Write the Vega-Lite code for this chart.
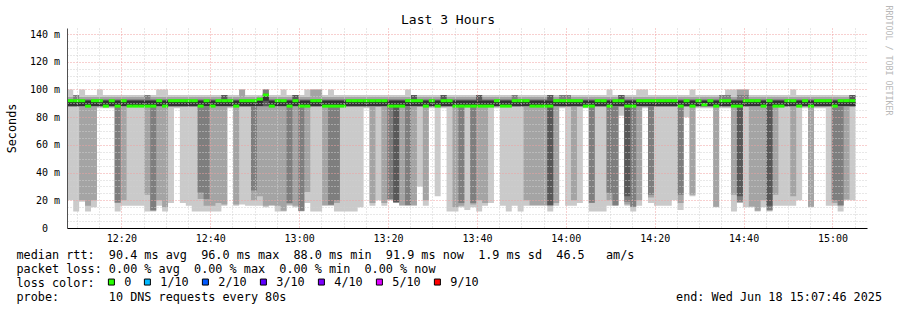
{
"$schema": "https://vega.github.io/schema/vega-lite/v6.json",
"width": 800,
"height": 200,
"autosize": {"type": "none"},
"padding": {"left": 67, "top": 28, "right": 30, "bottom": 82},
"background": "#ffffff",
"title": {"text": "Last 3 Hours", "fontSize": 13, "fontWeight": "normal", "color": "#000000", "anchor": "middle", "baseline": "alphabetic", "offset": 4, "dx": -19, "dy": 36},
"data": {"values": [
{"t":"2025-06-18T12:07:50","p1":20,"p2":87.3,"p3":87.8,"p4":88,"p5":88,"p6":91.9,"p7":92.3,"p8":93,"p9":94.5,"p10":100,"m":91.9,"loss":"0"},
{"t":"2025-06-18T12:09:10","p1":12,"p2":87.3,"p3":87.8,"p4":88,"p5":88,"p6":91.9,"p7":92.3,"p8":96,"p9":96,"p10":96,"m":91.9,"loss":"0"},
{"t":"2025-06-18T12:10:30","p1":19,"p2":20,"p3":87.8,"p4":88,"p5":88,"p6":91.9,"p7":92.3,"p8":93,"p9":94.5,"p10":100,"m":91.9,"loss":"0"},
{"t":"2025-06-18T12:11:50","p1":12,"p2":16,"p3":87.8,"p4":88,"p5":88,"p6":91.9,"p7":92.3,"p8":93,"p9":94.5,"p10":96,"m":88,"loss":"0"},
{"t":"2025-06-18T12:13:10","p1":15,"p2":20,"p3":87.8,"p4":88,"p5":88,"p6":91.9,"p7":92.3,"p8":93,"p9":94.5,"p10":96,"m":91.9,"loss":"0"},
{"t":"2025-06-18T12:14:30","p1":86.5,"p2":87.3,"p3":87.8,"p4":88,"p5":88,"p6":91.9,"p7":92.3,"p8":93,"p9":94.5,"p10":100,"m":91.9,"loss":"0"},
{"t":"2025-06-18T12:15:50","p1":86.5,"p2":87.3,"p3":87.8,"p4":88,"p5":88,"p6":91.9,"p7":92.3,"p8":93,"p9":94.5,"p10":96,"m":88,"loss":"0"},
{"t":"2025-06-18T12:17:10","p1":86.5,"p2":87.3,"p3":87.8,"p4":88,"p5":88,"p6":91.9,"p7":92.3,"p8":93,"p9":94.5,"p10":96,"m":91.9,"loss":"0"},
{"t":"2025-06-18T12:18:30","p1":12,"p2":18,"p3":18.5,"p4":88,"p5":88,"p6":91.9,"p7":92.3,"p8":93,"p9":94.5,"p10":96,"m":88,"loss":"0"},
{"t":"2025-06-18T12:19:50","p1":16,"p2":20,"p3":87.8,"p4":88,"p5":88,"p6":91.9,"p7":92.3,"p8":93,"p9":94.5,"p10":96,"m":91.9,"loss":"0"},
{"t":"2025-06-18T12:21:10","p1":16,"p2":87.3,"p3":87.8,"p4":88,"p5":88,"p6":91.9,"p7":92.3,"p8":93,"p9":94.5,"p10":96,"m":88,"loss":"0"},
{"t":"2025-06-18T12:22:30","p1":16,"p2":87.3,"p3":87.8,"p4":88,"p5":88,"p6":91.9,"p7":92.3,"p8":93,"p9":94.5,"p10":96,"m":88,"loss":"0"},
{"t":"2025-06-18T12:23:50","p1":16,"p2":87.3,"p3":87.8,"p4":88,"p5":88,"p6":91.9,"p7":92.3,"p8":93,"p9":94.5,"p10":96,"m":88,"loss":"0"},
{"t":"2025-06-18T12:25:10","p1":12,"p2":24,"p3":87.8,"p4":88,"p5":88,"p6":91.9,"p7":92.3,"p8":96,"p9":96,"p10":96,"m":88,"loss":"0"},
{"t":"2025-06-18T12:26:30","p1":12,"p2":12.5,"p3":12.8,"p4":88,"p5":88,"p6":91.9,"p7":92.3,"p8":93,"p9":94.5,"p10":96,"m":88,"loss":"0"},
{"t":"2025-06-18T12:27:50","p1":16,"p2":20,"p3":87.8,"p4":88,"p5":88,"p6":91.9,"p7":92.3,"p8":93,"p9":94.5,"p10":100,"m":91.9,"loss":"0"},
{"t":"2025-06-18T12:29:10","p1":12,"p2":15,"p3":87.8,"p4":88,"p5":88,"p6":91.9,"p7":92.3,"p8":93,"p9":94.5,"p10":100,"m":88,"loss":"0"},
{"t":"2025-06-18T12:30:30","p1":18,"p2":87.3,"p3":87.8,"p4":88,"p5":88,"p6":91.9,"p7":92.3,"p8":93,"p9":94.5,"p10":96,"m":91.9,"loss":"0"},
{"t":"2025-06-18T12:31:50","p1":86.5,"p2":87.3,"p3":87.8,"p4":88,"p5":88,"p6":91.9,"p7":92.3,"p8":93,"p9":94.5,"p10":96,"m":91.9,"loss":"0"},
{"t":"2025-06-18T12:33:10","p1":18,"p2":87.3,"p3":87.8,"p4":88,"p5":88,"p6":91.9,"p7":92.3,"p8":93,"p9":94.5,"p10":96,"m":91.9,"loss":"0"},
{"t":"2025-06-18T12:34:30","p1":16,"p2":87.3,"p3":87.8,"p4":88,"p5":88,"p6":91.9,"p7":92.3,"p8":93,"p9":94.5,"p10":96,"m":91.9,"loss":"0"},
{"t":"2025-06-18T12:35:50","p1":12,"p2":87.3,"p3":87.8,"p4":88,"p5":88,"p6":91.9,"p7":92.3,"p8":93,"p9":94.5,"p10":96,"m":91.9,"loss":"0"},
{"t":"2025-06-18T12:37:10","p1":12,"p2":21,"p3":25.7,"p4":88,"p5":88,"p6":91.9,"p7":92.3,"p8":93,"p9":94.5,"p10":96,"m":88,"loss":"0"},
{"t":"2025-06-18T12:38:30","p1":12,"p2":16,"p3":21,"p4":88,"p5":88,"p6":91.9,"p7":92.3,"p8":93,"p9":94.5,"p10":96,"m":91.9,"loss":"0"},
{"t":"2025-06-18T12:39:50","p1":12,"p2":16,"p3":87.8,"p4":88,"p5":88,"p6":91.9,"p7":92.3,"p8":93,"p9":94.5,"p10":96,"m":88,"loss":"0"},
{"t":"2025-06-18T12:41:10","p1":12,"p2":18,"p3":87.8,"p4":88,"p5":88,"p6":91.9,"p7":92.3,"p8":93,"p9":94.5,"p10":96,"m":91.9,"loss":"0"},
{"t":"2025-06-18T12:42:30","p1":16,"p2":17,"p3":87.8,"p4":88,"p5":88,"p6":91.9,"p7":96,"p8":96,"p9":96,"p10":96,"m":91.9,"loss":"0"},
{"t":"2025-06-18T12:43:50","p1":86.5,"p2":87.3,"p3":87.8,"p4":88,"p5":88,"p6":91.9,"p7":92.3,"p8":93,"p9":94.5,"p10":96,"m":91.9,"loss":"0"},
{"t":"2025-06-18T12:45:10","p1":16,"p2":17,"p3":87.8,"p4":88,"p5":88,"p6":91.9,"p7":92.3,"p8":93,"p9":94.5,"p10":96,"m":88,"loss":"0"},
{"t":"2025-06-18T12:46:30","p1":17,"p2":87.3,"p3":87.8,"p4":88,"p5":88,"p6":91.9,"p7":92.3,"p8":93,"p9":100,"p10":100,"m":91.9,"loss":"0"},
{"t":"2025-06-18T12:47:50","p1":16,"p2":87.3,"p3":87.8,"p4":88,"p5":88,"p6":91.9,"p7":92.3,"p8":93,"p9":94.5,"p10":96,"m":91.9,"loss":"0"},
{"t":"2025-06-18T12:49:10","p1":16,"p2":20,"p3":27,"p4":88,"p5":88,"p6":91.9,"p7":92.3,"p8":93,"p9":94.5,"p10":96,"m":91.9,"loss":"0"},
{"t":"2025-06-18T12:50:30","p1":16,"p2":23,"p3":87.8,"p4":88,"p5":88,"p6":93,"p7":93.5,"p8":94,"p9":95,"p10":96,"m":93,"loss":"0"},
{"t":"2025-06-18T12:51:50","p1":15,"p2":16,"p3":87.8,"p4":88,"p5":91.9,"p6":96,"p7":97,"p8":100,"p9":100,"p10":100,"m":96,"loss":"0"},
{"t":"2025-06-18T12:53:10","p1":16,"p2":16.5,"p3":87.8,"p4":88,"p5":88,"p6":91.9,"p7":92.3,"p8":93,"p9":94.5,"p10":96,"m":88,"loss":"0"},
{"t":"2025-06-18T12:54:30","p1":12,"p2":16,"p3":87.8,"p4":88,"p5":88,"p6":91.9,"p7":92.3,"p8":93,"p9":94.5,"p10":96,"m":91.9,"loss":"0"},
{"t":"2025-06-18T12:55:50","p1":12,"p2":12.5,"p3":87.8,"p4":88,"p5":88,"p6":91.9,"p7":92.3,"p8":93,"p9":94.5,"p10":100,"m":91.9,"loss":"0"},
{"t":"2025-06-18T12:57:10","p1":16,"p2":17,"p3":18,"p4":88,"p5":88,"p6":91.9,"p7":92.3,"p8":93,"p9":94.5,"p10":96,"m":88,"loss":"0"},
{"t":"2025-06-18T12:58:30","p1":15,"p2":16,"p3":87.8,"p4":88,"p5":88,"p6":91.9,"p7":96,"p8":96,"p9":96,"p10":96,"m":91.9,"loss":"0"},
{"t":"2025-06-18T12:59:50","p1":12,"p2":12.3,"p3":12.5,"p4":88,"p5":88,"p6":91.9,"p7":92.3,"p8":93,"p9":94.5,"p10":96,"m":88,"loss":"0"},
{"t":"2025-06-18T13:01:10","p1":18,"p2":26,"p3":87.8,"p4":88,"p5":88,"p6":91.9,"p7":92.3,"p8":93,"p9":94.5,"p10":100,"m":88,"loss":"0"},
{"t":"2025-06-18T13:02:30","p1":12,"p2":87.3,"p3":87.8,"p4":88,"p5":88,"p6":91.9,"p7":92.3,"p8":93,"p9":100,"p10":100,"m":91.9,"loss":"0"},
{"t":"2025-06-18T13:03:50","p1":12,"p2":87.3,"p3":87.8,"p4":88,"p5":88,"p6":91.9,"p7":92.3,"p8":93,"p9":100,"p10":100,"m":91.9,"loss":"0"},
{"t":"2025-06-18T13:05:10","p1":16,"p2":16.5,"p3":87.8,"p4":88,"p5":88,"p6":91.9,"p7":92.3,"p8":93,"p9":94.5,"p10":96,"m":88,"loss":"0"},
{"t":"2025-06-18T13:06:30","p1":16,"p2":16.5,"p3":16.8,"p4":88,"p5":88,"p6":91.9,"p7":92.3,"p8":93,"p9":94.5,"p10":100,"m":88,"loss":"0"},
{"t":"2025-06-18T13:07:50","p1":12,"p2":18,"p3":20,"p4":88,"p5":88,"p6":91.9,"p7":92.3,"p8":93,"p9":94.5,"p10":96,"m":88,"loss":"0"},
{"t":"2025-06-18T13:09:10","p1":12,"p2":87.3,"p3":87.8,"p4":88,"p5":88,"p6":91.9,"p7":92.3,"p8":93,"p9":94.5,"p10":96,"m":88,"loss":"0"},
{"t":"2025-06-18T13:10:30","p1":12,"p2":87.3,"p3":87.8,"p4":88,"p5":88,"p6":91.9,"p7":92.3,"p8":93,"p9":94.5,"p10":96,"m":91.9,"loss":"0"},
{"t":"2025-06-18T13:11:50","p1":12,"p2":87.3,"p3":87.8,"p4":88,"p5":88,"p6":91.9,"p7":92.3,"p8":93,"p9":94.5,"p10":96,"m":91.9,"loss":"0"},
{"t":"2025-06-18T13:13:10","p1":15,"p2":87.3,"p3":87.8,"p4":88,"p5":88,"p6":91.9,"p7":92.3,"p8":93,"p9":94.5,"p10":96,"m":91.9,"loss":"0"},
{"t":"2025-06-18T13:14:30","p1":86.5,"p2":87.3,"p3":87.8,"p4":88,"p5":88,"p6":91.9,"p7":92.3,"p8":93,"p9":94.5,"p10":96,"m":91.9,"loss":"0"},
{"t":"2025-06-18T13:15:50","p1":16,"p2":18,"p3":87.8,"p4":88,"p5":88,"p6":91.9,"p7":92.3,"p8":93,"p9":94.5,"p10":96,"m":91.9,"loss":"0"},
{"t":"2025-06-18T13:17:10","p1":20,"p2":87.3,"p3":87.8,"p4":88,"p5":88,"p6":91.9,"p7":92.3,"p8":93,"p9":94.5,"p10":96,"m":91.9,"loss":"0"},
{"t":"2025-06-18T13:18:30","p1":16,"p2":18,"p3":87.8,"p4":88,"p5":88,"p6":91.9,"p7":92.3,"p8":93,"p9":94.5,"p10":96,"m":91.9,"loss":"0"},
{"t":"2025-06-18T13:19:50","p1":20,"p2":20.5,"p3":20.8,"p4":88,"p5":88,"p6":91.9,"p7":92.3,"p8":93,"p9":94.5,"p10":96,"m":88,"loss":"0"},
{"t":"2025-06-18T13:21:10","p1":18,"p2":18.3,"p3":18.5,"p4":18.7,"p5":88,"p6":91.9,"p7":92.3,"p8":93,"p9":94.5,"p10":96,"m":88,"loss":"0"},
{"t":"2025-06-18T13:22:30","p1":16,"p2":16.5,"p3":87.8,"p4":88,"p5":88,"p6":91.9,"p7":92.3,"p8":93,"p9":94.5,"p10":96,"m":88,"loss":"0"},
{"t":"2025-06-18T13:23:50","p1":16,"p2":16.3,"p3":16.6,"p4":88,"p5":88,"p6":91.9,"p7":92.3,"p8":93,"p9":94.5,"p10":100,"m":91.9,"loss":"0"},
{"t":"2025-06-18T13:25:10","p1":16,"p2":16.5,"p3":87.8,"p4":88,"p5":88,"p6":91.9,"p7":96,"p8":96,"p9":96,"p10":96,"m":91.9,"loss":"0"},
{"t":"2025-06-18T13:26:30","p1":30,"p2":87.3,"p3":87.8,"p4":88,"p5":88,"p6":91.9,"p7":92.3,"p8":93,"p9":94.5,"p10":96,"m":91.9,"loss":"0"},
{"t":"2025-06-18T13:27:50","p1":16,"p2":20,"p3":87.8,"p4":88,"p5":88,"p6":91.9,"p7":92.3,"p8":93,"p9":94.5,"p10":96,"m":88,"loss":"0"},
{"t":"2025-06-18T13:29:10","p1":86.5,"p2":87.3,"p3":87.8,"p4":88,"p5":88,"p6":91.9,"p7":92.3,"p8":93,"p9":94.5,"p10":96,"m":91.9,"loss":"0"},
{"t":"2025-06-18T13:30:30","p1":23,"p2":87.3,"p3":87.8,"p4":88,"p5":88,"p6":91.9,"p7":92.3,"p8":93,"p9":94.5,"p10":96,"m":88,"loss":"0"},
{"t":"2025-06-18T13:31:50","p1":86.5,"p2":87.3,"p3":87.8,"p4":88,"p5":88,"p6":91.9,"p7":96,"p8":96,"p9":96,"p10":96,"m":91.9,"loss":"0"},
{"t":"2025-06-18T13:33:10","p1":12,"p2":87.3,"p3":87.8,"p4":88,"p5":88,"p6":91.9,"p7":92.3,"p8":93,"p9":94.5,"p10":96,"m":91.9,"loss":"0"},
{"t":"2025-06-18T13:34:30","p1":12,"p2":15,"p3":87.8,"p4":88,"p5":88,"p6":91.9,"p7":92.3,"p8":93,"p9":94.5,"p10":96,"m":88,"loss":"0"},
{"t":"2025-06-18T13:35:50","p1":15,"p2":16,"p3":18,"p4":88,"p5":88,"p6":91.9,"p7":92.3,"p8":93,"p9":94.5,"p10":96,"m":88,"loss":"0"},
{"t":"2025-06-18T13:37:10","p1":13,"p2":87.3,"p3":87.8,"p4":88,"p5":88,"p6":91.9,"p7":92.3,"p8":93,"p9":94.5,"p10":96,"m":88,"loss":"0"},
{"t":"2025-06-18T13:38:30","p1":15,"p2":17,"p3":18,"p4":88,"p5":88,"p6":91.9,"p7":92.3,"p8":93,"p9":94.5,"p10":96,"m":88,"loss":"0"},
{"t":"2025-06-18T13:39:50","p1":12,"p2":20,"p3":87.8,"p4":88,"p5":88,"p6":91.9,"p7":96,"p8":96,"p9":96,"p10":96,"m":88,"loss":"0"},
{"t":"2025-06-18T13:41:10","p1":16,"p2":18,"p3":87.8,"p4":88,"p5":88,"p6":91.9,"p7":92.3,"p8":93,"p9":94.5,"p10":96,"m":88,"loss":"0"},
{"t":"2025-06-18T13:42:30","p1":18,"p2":87.3,"p3":87.8,"p4":88,"p5":88,"p6":91.9,"p7":92.3,"p8":93,"p9":94.5,"p10":96,"m":88,"loss":"0"},
{"t":"2025-06-18T13:43:50","p1":86.5,"p2":87.3,"p3":87.8,"p4":88,"p5":88,"p6":91.9,"p7":92.3,"p8":93,"p9":94.5,"p10":96,"m":91.9,"loss":"0"},
{"t":"2025-06-18T13:45:10","p1":16,"p2":87.3,"p3":87.8,"p4":88,"p5":88,"p6":91.9,"p7":92.3,"p8":93,"p9":94.5,"p10":96,"m":88,"loss":"0"},
{"t":"2025-06-18T13:46:30","p1":12,"p2":87.3,"p3":87.8,"p4":88,"p5":88,"p6":91.9,"p7":92.3,"p8":93,"p9":94.5,"p10":96,"m":88,"loss":"0"},
{"t":"2025-06-18T13:47:50","p1":16,"p2":87.3,"p3":87.8,"p4":88,"p5":88,"p6":91.9,"p7":92.3,"p8":96,"p9":96,"p10":96,"m":91.9,"loss":"0"},
{"t":"2025-06-18T13:49:10","p1":12,"p2":87.3,"p3":87.8,"p4":88,"p5":88,"p6":91.9,"p7":92.3,"p8":93,"p9":94.5,"p10":96,"m":91.9,"loss":"0"},
{"t":"2025-06-18T13:50:30","p1":16,"p2":20,"p3":87.8,"p4":88,"p5":88,"p6":91.9,"p7":92.3,"p8":93,"p9":94.5,"p10":96,"m":91.9,"loss":"0"},
{"t":"2025-06-18T13:51:50","p1":16,"p2":16.5,"p3":87.8,"p4":88,"p5":88,"p6":91.9,"p7":92.3,"p8":93,"p9":94.5,"p10":96,"m":88,"loss":"0"},
{"t":"2025-06-18T13:53:10","p1":16,"p2":16.5,"p3":87.8,"p4":88,"p5":88,"p6":91.9,"p7":92.3,"p8":93,"p9":94.5,"p10":96,"m":88,"loss":"0"},
{"t":"2025-06-18T13:54:30","p1":16,"p2":16.5,"p3":87.8,"p4":88,"p5":88,"p6":91.9,"p7":92.3,"p8":93,"p9":94.5,"p10":96,"m":88,"loss":"0"},
{"t":"2025-06-18T13:55:50","p1":12,"p2":16,"p3":16.3,"p4":16.6,"p5":88,"p6":91.9,"p7":96,"p8":96,"p9":96,"p10":96,"m":88,"loss":"0"},
{"t":"2025-06-18T13:57:10","p1":16,"p2":18,"p3":87.8,"p4":88,"p5":88,"p6":91.9,"p7":92.3,"p8":93,"p9":94.5,"p10":96,"m":91.9,"loss":"0"},
{"t":"2025-06-18T13:58:30","p1":86.5,"p2":87.3,"p3":87.8,"p4":88,"p5":88,"p6":91.9,"p7":92.3,"p8":96,"p9":96,"p10":96,"m":91.9,"loss":"0"},
{"t":"2025-06-18T13:59:50","p1":16,"p2":87.3,"p3":87.8,"p4":88,"p5":88,"p6":91.9,"p7":92.3,"p8":96,"p9":96,"p10":96,"m":91.9,"loss":"0"},
{"t":"2025-06-18T14:01:10","p1":16,"p2":20,"p3":87.8,"p4":88,"p5":88,"p6":91.9,"p7":92.3,"p8":93,"p9":94.5,"p10":96,"m":91.9,"loss":"0"},
{"t":"2025-06-18T14:02:30","p1":18,"p2":87.3,"p3":87.8,"p4":88,"p5":88,"p6":91.9,"p7":92.3,"p8":93,"p9":94.5,"p10":96,"m":91.9,"loss":"0"},
{"t":"2025-06-18T14:03:50","p1":86.5,"p2":87.3,"p3":87.8,"p4":88,"p5":88,"p6":91.9,"p7":92.3,"p8":93,"p9":94.5,"p10":96,"m":88,"loss":"0"},
{"t":"2025-06-18T14:05:10","p1":12,"p2":18,"p3":18.3,"p4":88,"p5":88,"p6":91.9,"p7":92.3,"p8":93,"p9":94.5,"p10":96,"m":88,"loss":"0"},
{"t":"2025-06-18T14:06:30","p1":12,"p2":87.3,"p3":87.8,"p4":88,"p5":88,"p6":91.9,"p7":92.3,"p8":93,"p9":94.5,"p10":96,"m":91.9,"loss":"0"},
{"t":"2025-06-18T14:07:50","p1":12,"p2":87.3,"p3":87.8,"p4":88,"p5":88,"p6":91.9,"p7":92.3,"p8":93,"p9":94.5,"p10":96,"m":91.9,"loss":"0"},
{"t":"2025-06-18T14:09:10","p1":16,"p2":20,"p3":25.5,"p4":88,"p5":88,"p6":91.9,"p7":92.3,"p8":93,"p9":94.5,"p10":100,"m":88,"loss":"0"},
{"t":"2025-06-18T14:10:30","p1":16,"p2":16.2,"p3":16.4,"p4":88,"p5":88,"p6":91.9,"p7":92.3,"p8":93,"p9":94.5,"p10":96,"m":91.9,"loss":"0"},
{"t":"2025-06-18T14:11:50","p1":81,"p2":87.3,"p3":87.8,"p4":88,"p5":88,"p6":91.9,"p7":96,"p8":96,"p9":96,"p10":96,"m":91.9,"loss":"0"},
{"t":"2025-06-18T14:13:10","p1":16,"p2":17,"p3":19,"p4":23,"p5":88,"p6":91.9,"p7":92.3,"p8":93,"p9":94.5,"p10":96,"m":88,"loss":"0"},
{"t":"2025-06-18T14:14:30","p1":12,"p2":15,"p3":15.5,"p4":88,"p5":88,"p6":91.9,"p7":92.3,"p8":93,"p9":94.5,"p10":96,"m":88,"loss":"0"},
{"t":"2025-06-18T14:15:50","p1":16,"p2":20,"p3":87.8,"p4":88,"p5":88,"p6":91.9,"p7":92.3,"p8":93,"p9":94.5,"p10":100,"m":91.9,"loss":"0"},
{"t":"2025-06-18T14:17:10","p1":86.5,"p2":87.3,"p3":87.8,"p4":88,"p5":88,"p6":91.9,"p7":92.3,"p8":93,"p9":94.5,"p10":100,"m":91.9,"loss":"0"},
{"t":"2025-06-18T14:18:30","p1":18,"p2":22,"p3":24,"p4":88,"p5":88,"p6":91.9,"p7":92.3,"p8":93,"p9":94.5,"p10":96,"m":91.9,"loss":"0"},
{"t":"2025-06-18T14:19:50","p1":16,"p2":87.3,"p3":87.8,"p4":88,"p5":88,"p6":91.9,"p7":92.3,"p8":93,"p9":94.5,"p10":96,"m":91.9,"loss":"0"},
{"t":"2025-06-18T14:21:10","p1":16,"p2":87.3,"p3":87.8,"p4":88,"p5":88,"p6":91.9,"p7":92.3,"p8":93,"p9":94.5,"p10":96,"m":91.9,"loss":"0"},
{"t":"2025-06-18T14:22:30","p1":16,"p2":87.3,"p3":87.8,"p4":88,"p5":88,"p6":91.9,"p7":92.3,"p8":93,"p9":94.5,"p10":96,"m":91.9,"loss":"0"},
{"t":"2025-06-18T14:23:50","p1":20,"p2":87.3,"p3":87.8,"p4":88,"p5":88,"p6":91.9,"p7":92.3,"p8":93,"p9":94.5,"p10":96,"m":91.9,"loss":"0"},
{"t":"2025-06-18T14:25:10","p1":13,"p2":18,"p3":24,"p4":88,"p5":88,"p6":91.9,"p7":92.3,"p8":93,"p9":94.5,"p10":96,"m":88,"loss":"0"},
{"t":"2025-06-18T14:26:30","p1":80,"p2":87.3,"p3":87.8,"p4":88,"p5":88,"p6":91.9,"p7":92.3,"p8":93,"p9":94.5,"p10":96,"m":91.9,"loss":"0"},
{"t":"2025-06-18T14:27:50","p1":23,"p2":24,"p3":87.8,"p4":88,"p5":88,"p6":91.9,"p7":92.3,"p8":93,"p9":94.5,"p10":100,"m":88,"loss":"0"},
{"t":"2025-06-18T14:29:10","p1":86.5,"p2":87.3,"p3":87.8,"p4":88,"p5":88,"p6":91.9,"p7":92.3,"p8":93,"p9":94.5,"p10":96,"m":91.9,"loss":"0"},
{"t":"2025-06-18T14:30:30","p1":86.5,"p2":87.3,"p3":87.8,"p4":88,"p5":88,"p6":91.9,"p7":92.3,"p8":93,"p9":94.5,"p10":96,"m":89,"loss":"0"},
{"t":"2025-06-18T14:31:50","p1":86.5,"p2":87.3,"p3":87.8,"p4":88,"p5":88,"p6":91.9,"p7":92.3,"p8":93,"p9":94.5,"p10":96,"m":91.9,"loss":"0"},
{"t":"2025-06-18T14:33:10","p1":15,"p2":15.3,"p3":87.8,"p4":88,"p5":88,"p6":91.9,"p7":92.3,"p8":93,"p9":94.5,"p10":96,"m":88,"loss":"0"},
{"t":"2025-06-18T14:34:30","p1":86.5,"p2":87.3,"p3":87.8,"p4":88,"p5":88,"p6":91.9,"p7":92.3,"p8":96,"p9":96,"p10":96,"m":91.9,"loss":"0"},
{"t":"2025-06-18T14:35:50","p1":86.5,"p2":87.3,"p3":87.8,"p4":88,"p5":88,"p6":91.9,"p7":92.3,"p8":96,"p9":96,"p10":100,"m":91.9,"loss":"0"},
{"t":"2025-06-18T14:37:10","p1":12,"p2":24,"p3":87.8,"p4":88,"p5":88,"p6":91.9,"p7":92.3,"p8":93,"p9":94.5,"p10":100,"m":88,"loss":"0"},
{"t":"2025-06-18T14:38:30","p1":18,"p2":18.5,"p3":19,"p4":23,"p5":88,"p6":91.9,"p7":92.3,"p8":96,"p9":100,"p10":100,"m":88,"loss":"0"},
{"t":"2025-06-18T14:39:50","p1":15,"p2":87.3,"p3":87.8,"p4":88,"p5":88,"p6":91.9,"p7":92.3,"p8":96,"p9":100,"p10":100,"m":91.9,"loss":"0"},
{"t":"2025-06-18T14:41:10","p1":15,"p2":15.5,"p3":87.8,"p4":88,"p5":88,"p6":91.9,"p7":92.3,"p8":93,"p9":94.5,"p10":96,"m":91.9,"loss":"0"},
{"t":"2025-06-18T14:42:30","p1":12,"p2":12.5,"p3":87.8,"p4":88,"p5":88,"p6":91.9,"p7":92.3,"p8":93,"p9":94.5,"p10":96,"m":91.9,"loss":"0"},
{"t":"2025-06-18T14:43:50","p1":15,"p2":20,"p3":87.8,"p4":88,"p5":88,"p6":91.9,"p7":92.3,"p8":93,"p9":94.5,"p10":96,"m":88,"loss":"0"},
{"t":"2025-06-18T14:45:10","p1":12,"p2":12.5,"p3":13,"p4":16,"p5":88,"p6":91.9,"p7":92.3,"p8":93,"p9":94.5,"p10":96,"m":91.9,"loss":"0"},
{"t":"2025-06-18T14:46:30","p1":16,"p2":24,"p3":87.8,"p4":88,"p5":88,"p6":91.9,"p7":92.3,"p8":93,"p9":94.5,"p10":96,"m":88,"loss":"0"},
{"t":"2025-06-18T14:47:50","p1":16,"p2":87.3,"p3":87.8,"p4":88,"p5":88,"p6":91.9,"p7":92.3,"p8":93,"p9":94.5,"p10":96,"m":88,"loss":"0"},
{"t":"2025-06-18T14:49:10","p1":16,"p2":87.3,"p3":87.8,"p4":88,"p5":88,"p6":91.9,"p7":92.3,"p8":93,"p9":94.5,"p10":96,"m":91.9,"loss":"0"},
{"t":"2025-06-18T14:50:30","p1":16,"p2":23,"p3":87.8,"p4":88,"p5":88,"p6":91.9,"p7":92.3,"p8":93,"p9":94.5,"p10":100,"m":91.9,"loss":"0"},
{"t":"2025-06-18T14:51:50","p1":20,"p2":87.3,"p3":87.8,"p4":88,"p5":88,"p6":91.9,"p7":92.3,"p8":93,"p9":94.5,"p10":96,"m":88,"loss":"0"},
{"t":"2025-06-18T14:53:10","p1":86.5,"p2":87.3,"p3":87.8,"p4":88,"p5":88,"p6":91.9,"p7":92.3,"p8":93,"p9":94.5,"p10":96,"m":91.9,"loss":"0"},
{"t":"2025-06-18T14:54:30","p1":15,"p2":15.3,"p3":87.8,"p4":88,"p5":88,"p6":91.9,"p7":92.3,"p8":93,"p9":94.5,"p10":96,"m":88,"loss":"0"},
{"t":"2025-06-18T14:55:50","p1":86.5,"p2":87.3,"p3":87.8,"p4":88,"p5":88,"p6":91.9,"p7":92.3,"p8":93,"p9":94.5,"p10":96,"m":91.9,"loss":"0"},
{"t":"2025-06-18T14:57:10","p1":86.5,"p2":87.3,"p3":87.8,"p4":88,"p5":88,"p6":91.9,"p7":92.3,"p8":93,"p9":94.5,"p10":96,"m":91.9,"loss":"0"},
{"t":"2025-06-18T14:58:30","p1":16,"p2":87.3,"p3":87.8,"p4":88,"p5":88,"p6":91.9,"p7":92.3,"p8":93,"p9":94.5,"p10":96,"m":91.9,"loss":"0"},
{"t":"2025-06-18T14:59:50","p1":16,"p2":18,"p3":20,"p4":88,"p5":88,"p6":91.9,"p7":92.3,"p8":93,"p9":94.5,"p10":96,"m":88,"loss":"0"},
{"t":"2025-06-18T15:01:10","p1":12,"p2":16,"p3":16.4,"p4":88,"p5":88,"p6":91.9,"p7":92.3,"p8":93,"p9":94.5,"p10":96,"m":91.9,"loss":"0"},
{"t":"2025-06-18T15:02:30","p1":20,"p2":20.5,"p3":87.8,"p4":88,"p5":88,"p6":91.9,"p7":92.3,"p8":93,"p9":94.5,"p10":96,"m":91.9,"loss":"0"},
{"t":"2025-06-18T15:03:50","p1":20,"p2":87.3,"p3":87.8,"p4":88,"p5":88,"p6":91.9,"p7":96,"p8":96,"p9":96,"p10":96,"m":91.9,"loss":"0"},
{"t":"2025-06-18T15:05:10","p1":20,"p2":87.3,"p3":87.8,"p4":88,"p5":88,"p6":91.9,"p7":96,"p8":96,"p9":96,"p10":96}
]},
"layer": [
{
"encoding": {
"x": {"field": "t", "type": "temporal",
 "scale": {"domain": [{"year": 2025, "month": 6, "date": 18, "hours": 12, "minutes": 7, "seconds": 46}, {"year": 2025, "month": 6, "date": 18, "hours": 15, "minutes": 7, "seconds": 46}]},
 "axis": {
  "tickCount": 36,
  "labelExpr": "minutes(datum.value) % 20 === 0 ? timeFormat(datum.value, '%H:%M') : ''",
  "gridColor": {"condition": {"test": "minutes(datum.value) % 20 === 0", "value": "#f0a0a0"}, "value": "#d0d0d0"},
  "gridDash": [1, 2], "gridOpacity": 1, "ticks": false, "tickSize": 0,
  "labelPadding": 13, "labelBaseline": "alphabetic", "labelFontSize": 10, "labelColor": "#000000",
  "labelFlush": false, "labelOverlap": false, "domainColor": "#000000", "zindex": 1,
  "title": ["median rtt:\u00a0\u00a090.4\u00a0ms\u00a0avg\u00a0\u00a096.0\u00a0ms\u00a0max\u00a0\u00a088.0\u00a0ms\u00a0min\u00a0\u00a091.9\u00a0ms\u00a0now\u00a0\u00a01.9\u00a0ms\u00a0sd\u00a0\u00a046.5\u00a0\u00a0\u00a0am/s", "packet loss:\u00a00.00\u00a0%\u00a0avg\u00a0\u00a00.00\u00a0%\u00a0max\u00a0\u00a00.00\u00a0%\u00a0min\u00a0\u00a00.00\u00a0%\u00a0now", "loss color:", "probe:\u00a0\u00a0\u00a0\u00a0\u00a0\u00a0\u00a010\u00a0DNS\u00a0requests\u00a0every\u00a080s"],
  "titleX": -51, "titleY": 30.5, "titleAlign": "left", "titleAnchor": "start", "titleBaseline": "alphabetic",
  "titleFontSize": 11.8, "titleFontWeight": "normal", "titleColor": "#000000", "titleLineHeight": 14
 }}
},
"layer": [
{"mark": {"type": "area", "interpolate": "step-after", "color": "#cacaca", "opacity": 1},
 "encoding": {"y": {"field": "p1", "type": "quantitative", "title": "Seconds",
   "scale": {"domain": [0, 144.4], "nice": false, "zero": false},
   "axis": {"values": [0,5,10,15,20,25,30,35,40,45,50,55,60,65,70,75,80,85,90,95,100,105,110,115,120,125,130,135,140], "labelExpr": "datum.value % 20 === 0 ? (datum.value === 0 ? '0\u00a0\u00a0\u200b' : datum.value + '\u00a0m') : ''", "gridColor": {"condition": {"test": "datum.value % 20 === 0", "value": "#f0a0a0"}, "value": "#d0d0d0"}, "gridDash": [1, 2], "gridOpacity": 1, "ticks": false, "tickSize": 0, "labelPadding": 7.5, "labelFontSize": 10, "labelColor": "#000000", "labelOverlap": false, "labelSeparation": 0, "labelBaseline": "middle", "domainColor": "#505050", "zindex": 1, "titleX": -52, "titleY": 100, "titleAngle": -90, "titleAlign": "center", "titleBaseline": "alphabetic", "titleFontSize": 11.8, "titleFontWeight": "normal", "titleColor": "#000000"}},
  "y2": {"field": "p10"}}},
{"mark": {"type": "area", "interpolate": "step-after", "color": "#a4a4a4", "opacity": 1},
 "encoding": {"y": {"field": "p2", "type": "quantitative", "title": "Seconds", "scale": {"domain": [0, 144.4], "nice": false, "zero": false},
   "axis": {"values": [0,5,10,15,20,25,30,35,40,45,50,55,60,65,70,75,80,85,90,95,100,105,110,115,120,125,130,135,140], "labelExpr": "datum.value % 20 === 0 ? (datum.value === 0 ? '0\u00a0\u00a0\u200b' : datum.value + '\u00a0m') : ''", "gridColor": {"condition": {"test": "datum.value % 20 === 0", "value": "#f0a0a0"}, "value": "#d0d0d0"}, "gridDash": [1, 2], "gridOpacity": 1, "ticks": false, "tickSize": 0, "labelPadding": 7.5, "labelFontSize": 10, "labelColor": "#000000", "labelOverlap": false, "labelSeparation": 0, "labelBaseline": "middle", "domainColor": "#505050", "zindex": 1, "titleX": -52, "titleY": 100, "titleAngle": -90, "titleAlign": "center", "titleBaseline": "alphabetic", "titleFontSize": 11.8, "titleFontWeight": "normal", "titleColor": "#000000"}},
  "y2": {"field": "p9"}}},
{"mark": {"type": "area", "interpolate": "step-after", "color": "#7e7e7e", "opacity": 1},
 "encoding": {"y": {"field": "p3", "type": "quantitative", "title": "Seconds", "scale": {"domain": [0, 144.4], "nice": false, "zero": false},
   "axis": {"values": [0,5,10,15,20,25,30,35,40,45,50,55,60,65,70,75,80,85,90,95,100,105,110,115,120,125,130,135,140], "labelExpr": "datum.value % 20 === 0 ? (datum.value === 0 ? '0\u00a0\u00a0\u200b' : datum.value + '\u00a0m') : ''", "gridColor": {"condition": {"test": "datum.value % 20 === 0", "value": "#f0a0a0"}, "value": "#d0d0d0"}, "gridDash": [1, 2], "gridOpacity": 1, "ticks": false, "tickSize": 0, "labelPadding": 7.5, "labelFontSize": 10, "labelColor": "#000000", "labelOverlap": false, "labelSeparation": 0, "labelBaseline": "middle", "domainColor": "#505050", "zindex": 1, "titleX": -52, "titleY": 100, "titleAngle": -90, "titleAlign": "center", "titleBaseline": "alphabetic", "titleFontSize": 11.8, "titleFontWeight": "normal", "titleColor": "#000000"}},
  "y2": {"field": "p8"}}},
{"mark": {"type": "area", "interpolate": "step-after", "color": "#585858", "opacity": 1},
 "encoding": {"y": {"field": "p4", "type": "quantitative", "title": "Seconds", "scale": {"domain": [0, 144.4], "nice": false, "zero": false},
   "axis": {"values": [0,5,10,15,20,25,30,35,40,45,50,55,60,65,70,75,80,85,90,95,100,105,110,115,120,125,130,135,140], "labelExpr": "datum.value % 20 === 0 ? (datum.value === 0 ? '0\u00a0\u00a0\u200b' : datum.value + '\u00a0m') : ''", "gridColor": {"condition": {"test": "datum.value % 20 === 0", "value": "#f0a0a0"}, "value": "#d0d0d0"}, "gridDash": [1, 2], "gridOpacity": 1, "ticks": false, "tickSize": 0, "labelPadding": 7.5, "labelFontSize": 10, "labelColor": "#000000", "labelOverlap": false, "labelSeparation": 0, "labelBaseline": "middle", "domainColor": "#505050", "zindex": 1, "titleX": -52, "titleY": 100, "titleAngle": -90, "titleAlign": "center", "titleBaseline": "alphabetic", "titleFontSize": 11.8, "titleFontWeight": "normal", "titleColor": "#000000"}},
  "y2": {"field": "p7"}}},
{"mark": {"type": "area", "interpolate": "step-after", "color": "#323232", "opacity": 1},
 "encoding": {"y": {"field": "p5", "type": "quantitative", "title": "Seconds", "scale": {"domain": [0, 144.4], "nice": false, "zero": false},
   "axis": {"values": [0,5,10,15,20,25,30,35,40,45,50,55,60,65,70,75,80,85,90,95,100,105,110,115,120,125,130,135,140], "labelExpr": "datum.value % 20 === 0 ? (datum.value === 0 ? '0\u00a0\u00a0\u200b' : datum.value + '\u00a0m') : ''", "gridColor": {"condition": {"test": "datum.value % 20 === 0", "value": "#f0a0a0"}, "value": "#d0d0d0"}, "gridDash": [1, 2], "gridOpacity": 1, "ticks": false, "tickSize": 0, "labelPadding": 7.5, "labelFontSize": 10, "labelColor": "#000000", "labelOverlap": false, "labelSeparation": 0, "labelBaseline": "middle", "domainColor": "#505050", "zindex": 1, "titleX": -52, "titleY": 100, "titleAngle": -90, "titleAlign": "center", "titleBaseline": "alphabetic", "titleFontSize": 11.8, "titleFontWeight": "normal", "titleColor": "#000000"}},
  "y2": {"field": "p6"}}}
]
},
{
"mark": {"type": "tick", "orient": "horizontal", "thickness": 3, "size": 6, "xOffset": 3, "opacity": 1},
"encoding": {
 "x": {"field": "t", "type": "temporal",
  "scale": {"domain": [{"year": 2025, "month": 6, "date": 18, "hours": 12, "minutes": 7, "seconds": 46}, {"year": 2025, "month": 6, "date": 18, "hours": 15, "minutes": 7, "seconds": 46}]},
  "axis": {"orient": "top", "title": "end:\u00a0Wed\u00a0Jun\u00a018\u00a015:07:46\u00a02025", "labels": false, "ticks": false, "domain": false, "grid": false,
   "titleX": 814.5, "titleY": 272, "titleAlign": "right", "titleAnchor": "end", "titleBaseline": "alphabetic",
   "titleFontSize": 11.8, "titleFontWeight": "normal", "titleColor": "#000000"}},
 "y": {"field": "m", "type": "quantitative",
  "scale": {"domain": [0, 144.4], "nice": false, "zero": false},
  "axis": {"orient": "right", "title": "RRDTOOL / TOBI OETIKER", "labels": false, "ticks": false, "domain": false, "grid": false,
   "titleAngle": 90, "titleX": 18, "titleY": -23, "titleAlign": "left", "titleAnchor": "start", "titleBaseline": "alphabetic",
   "titleFontSize": 8.3, "titleFontWeight": "normal", "titleColor": "#b8b8b8"}},
 "color": {"field": "loss", "type": "nominal",
  "scale": {"domain": ["0", "1/10", "2/10", "3/10", "4/10", "5/10", "9/10"], "range": ["#26ff00", "#00b8ff", "#0059ff", "#5e00ff", "#7e00ff", "#dd00ff", "#ff0000"]},
  "legend": {"orient": "none", "direction": "horizontal", "legendX": 38.5, "legendY": 248, "padding": 0,
   "title": null,
   "symbolType": "square", "symbolSize": 36, "symbolStrokeColor": "#000000", "symbolStrokeWidth": 1, "symbolOpacity": 1,
   "labelFontSize": 11.8, "labelColor": "#000000", "labelOffset": 7, "columnPadding": 10, "rowPadding": 0}}
}
}
],
"resolve": {"scale": {"x": "independent", "y": "independent"}},
"config": {
 "font": "DejaVu Sans Mono",
 "view": {"stroke": null},
 "axis": {"labelOverlap": false}
}
}
